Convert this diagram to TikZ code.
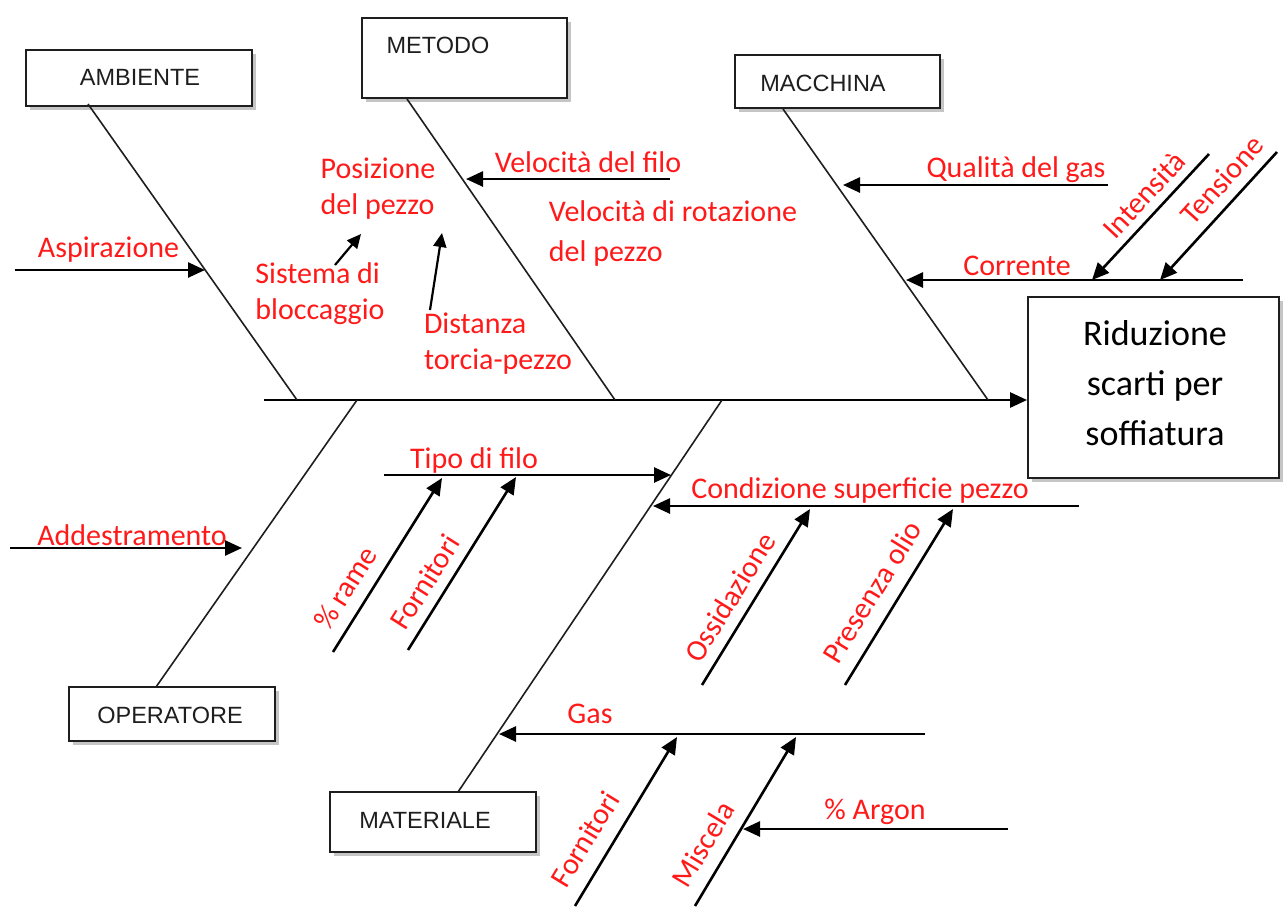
\documentclass[tikz,border=0pt]{standalone}
\usepackage{fontspec}
\setmainfont{Carlito}
\newfontfamily\boxfont{Liberation Sans}
\usetikzlibrary{arrows.meta,shadows,calc}
\definecolor{lblred}{RGB}{255,25,25}
\definecolor{ink}{RGB}{30,30,30}
\begin{document}
\begin{tikzpicture}[x=1pt,y=-1pt,
  catbox/.style={draw=ink, line width=1.8pt, fill=white, inner sep=0pt,
    drop shadow={shadow xshift=4pt, shadow yshift=-4pt, fill=black!45, opacity=0.5}},
  cattext/.style={font=\boxfont\fontsize{23.5}{27}\selectfont, text=ink, inner sep=0pt},
  bone/.style={draw=ink, line width=1.6pt},
  arr/.style={draw=black, line width=2.6pt, -{Triangle[length=17pt,width=15pt]}},
  smallarr/.style={draw=black, line width=2.2pt, -{Triangle[length=14pt,width=13pt]}},
  lab/.style={text=lblred, font=\fontsize{30}{40}\selectfont, inner sep=0pt},
  lab2/.style={lab, align=left, font=\fontsize{30}{36}\selectfont},
]
\useasboundingbox (0,0) rectangle (1283,906);

% category boxes
\node[catbox, minimum width=226pt, minimum height=56pt] (ambbox) at (139,78) {};
\node[cattext] (ambtxt) at (140,77) {AMBIENTE};
\node[catbox, minimum width=205pt, minimum height=80pt] (metbox) at (464.5,58) {};
\node[cattext] (mettxt) at (438,45) {METODO};
\node[catbox, minimum width=205pt, minimum height=53pt] (macbox) at (837.5,81.5) {};
\node[cattext] (mactxt) at (823,83) {MACCHINA};
\node[catbox, minimum width=206pt, minimum height=54pt] (opbox) at (172,714) {};
\node[cattext] (optxt) at (170,715) {OPERATORE};
\node[catbox, minimum width=206pt, minimum height=60pt] (matbox) at (433,822) {};
\node[cattext] (mattxt) at (425,820) {MATERIALE};

% effect box
\node[catbox, minimum width=251pt, minimum height=181pt] (effect) at (1153.5,387.5) {};
\node[text=black, font=\fontsize{36}{50}\selectfont, align=center, inner sep=0pt] (efftxt) at (1155,383)
  {Riduzione\\scarti per\\soffiatura};

% spine
\coordinate (spine) at (264,400);
\draw[arr] (spine) -- (spine -| effect.west);

% bones
\coordinate (amb-s) at (88,104);  \coordinate (amb-j) at (297,400);
\coordinate (met-s) at (407,99);  \coordinate (met-j) at (615,400);
\coordinate (mac-s) at (783,109); \coordinate (mac-j) at (988,400);
\coordinate (op-s) at (156,687);  \coordinate (op-j) at (357,400);
\coordinate (mat-s) at (458,792); \coordinate (mat-j) at (722,400);
\draw[bone] (amb-s) -- (amb-j);
\draw[bone] (met-s) -- (met-j);
\draw[bone] (mac-s) -- (mac-j);
\draw[bone] (op-s) -- (op-j);
\draw[bone] (mat-s) -- (mat-j);

% AMBIENTE
\coordinate (asp-t) at (15,270); \coordinate (asp-h) at (205,270);
\draw[arr] (asp-t) -- (asp-h);
\node[lab] (asp) at (108.5,250) {Aspirazione};

% METODO
\node[lab2] (pos) at (378,189) {Posizione\\del pezzo};
\node[lab2] (sist) at (320,294) {Sistema di\\bloccaggio};
\node[lab2] (dist) at (498,344) {Distanza\\torcia-pezzo};
\coordinate (sist-t) at (335,265); \coordinate (sist-h) at (361,234);
\draw[smallarr] (sist-t) -- (sist-h);
\coordinate (dist-t) at (430,310); \coordinate (dist-h) at (442,233);
\draw[smallarr] (dist-t) -- (dist-h);
\coordinate (vf-t) at (670,179); \coordinate (vf-h) at (466,179);
\draw[arr] (vf-t) -- (vf-h);
\node[lab] (vf) at (588,162) {Velocità del filo};
\node[lab, align=left, font=\fontsize{30}{40}\selectfont] (vrot) at (673,233) {Velocità di rotazione\\del pezzo};

% MACCHINA
\coordinate (qg-t) at (1108,185); \coordinate (qg-h) at (843,185);
\draw[arr] (qg-t) -- (qg-h);
\node[lab] (qg) at (1016,170) {Qualità del gas};
\coordinate (cor-t) at (1243,280); \coordinate (cor-h) at (906,280);
\draw[arr] (cor-t) -- (cor-h);
\node[lab] (cor) at (1017,266) {Corrente};
\coordinate (int-t) at (1209,154); \coordinate (int-h) at (1092,280);
\draw[arr] (int-t) -- (int-h);
\node[lab, rotate=47] (int) at (1144,195) {Intensità};
\coordinate (ten-t) at (1277,152); \coordinate (ten-h) at (1160,280);
\draw[arr] (ten-t) -- (ten-h);
\node[lab, rotate=48] (ten) at (1222,180) {Tensione};

% OPERATORE
\coordinate (add-t) at (10,548); \coordinate (add-h) at (242,548);
\draw[arr] (add-t) -- (add-h);
\node[lab] (add) at (132,535) {Addestramento};

% MATERIALE
\coordinate (tf-t) at (384,475); \coordinate (tf-h) at (671,475);
\draw[arr] (tf-t) -- (tf-h);
\node[lab] (tf) at (474,460) {Tipo di filo};
\coordinate (ra-t) at (333,652); \coordinate (ra-h) at (442,478);
\draw[arr] (ra-t) -- (ra-h);
\node[lab, rotate=57.6] (ra) at (345,588) {\% rame};
\coordinate (fo1-t) at (408,650); \coordinate (fo1-h) at (516,477);
\draw[arr] (fo1-t) -- (fo1-h);
\node[lab, rotate=57.8] (fo1) at (425,582) {Fornitori};

\coordinate (cs-t) at (1079,506); \coordinate (cs-h) at (653,506);
\draw[arr] (cs-t) -- (cs-h);
\node[lab] (cs) at (860,490) {Condizione superficie pezzo};
\coordinate (os-t) at (702,685); \coordinate (os-h) at (810,509);
\draw[arr] (os-t) -- (os-h);
\node[lab, rotate=58.3] (os) at (730,597) {Ossidazione};
\coordinate (po-t) at (845,685); \coordinate (po-h) at (953,509);
\draw[arr] (po-t) -- (po-h);
\node[lab, rotate=58.3] (po) at (872,592) {Presenza olio};

\coordinate (gas-t) at (925,734); \coordinate (gas-h) at (499,734);
\draw[arr] (gas-t) -- (gas-h);
\node[lab] (gas) at (590,714) {Gas};
\coordinate (fo2-t) at (575,906); \coordinate (fo2-h) at (677,737);
\draw[arr] (fo2-t) -- (fo2-h);
\node[lab, rotate=58.6] (fo2) at (585,839) {Fornitori};
\coordinate (mi-t) at (695,906); \coordinate (mi-h) at (796,737);
\draw[arr] (mi-t) -- (mi-h);
\node[lab, rotate=58.9] (mi) at (703,844) {Miscela};
\coordinate (ar-t) at (1008,829); \coordinate (ar-h) at (743,829);
\draw[arr] (ar-t) -- (ar-h);
\node[lab] (ar) at (875,812) {\% Argon};
\end{tikzpicture}
\end{document}
